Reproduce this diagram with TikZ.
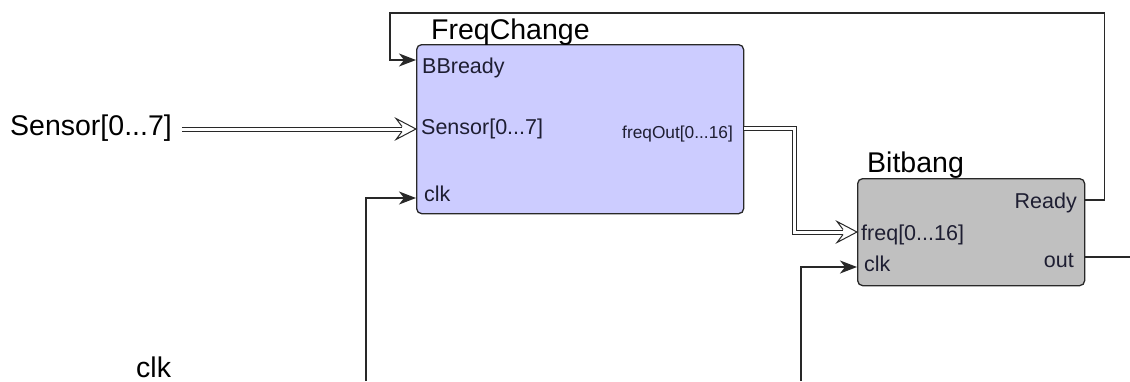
\documentclass[tikz,border=0pt]{standalone}
\usepackage{fontspec}
\setmainfont{Liberation Sans}
\usetikzlibrary{arrows.meta}
\definecolor{fcfill}{RGB}{204,204,255}
\definecolor{bbfill}{RGB}{192,192,192}
\definecolor{wire}{RGB}{40,40,40}
\definecolor{portlbl}{RGB}{30,30,50}
\begin{document}
\begin{tikzpicture}[x=1pt,y=-1pt,
  block/.style={draw=wire, line width=1.3pt, rounded corners=5pt, inner sep=0pt},
  title/.style={inner sep=0pt, font=\fontsize{28.5}{32}\selectfont, text=black},
  extlbl/.style={inner sep=0pt, font=\fontsize{28.5}{32}\selectfont, text=black},
  port/.style={inner sep=0pt, font=\fontsize{21.5}{25}\selectfont, text=portlbl},
  smallport/.style={inner sep=0pt, font=\fontsize{17.3}{20}\selectfont, text=portlbl},
  sig/.style={draw=wire, line width=1.3pt, -{Stealth[length=17pt,width=13pt,inset=5pt]}},
  plain/.style={draw=wire, line width=1.3pt},
  bus/.style={draw=wire, line width=1pt, double=white, double distance=3pt, shorten >=14pt},
  % hollow arrowhead closing a bus line
  openhead/.pic={
    \fill[white] (0,0) -- (-20,-10.5) -- (-14,-2.5) -- (-14,2.5) -- (-20,10.5) -- cycle;
    \draw[wire, line width=1pt, line join=miter]
      (-14,-2.5) -- (-20,-10.5) -- (0,0) -- (-20,10.5) -- (-14,2.5);
  }
]
\useasboundingbox (0,0) rectangle (1130,381);

% blocks
\node[block, fill=fcfill, minimum width=327pt, minimum height=169pt, anchor=north west] (fc) at (416,44) {};
\node[block, fill=bbfill, minimum width=227pt, minimum height=107pt, anchor=north west] (bb) at (857,178) {};

% block titles
\node[title, anchor=base west] (fctitle) at (431,39) {FreqChange};
\node[title, anchor=base west] (bbtitle) at (867,172) {Bitbang};

% external labels
\node[extlbl, anchor=base west] (senlbl) at (10,135) {Sensor[0...7]};
\node[extlbl, anchor=base west] (clklbl) at (136,377) {clk};

% port labels of FreqChange
\node[port, anchor=base west] (pBB) at (422,73) {BBready};
\node[port, anchor=base west] (pSen) at (421,134) {Sensor[0...7]};
\node[port, anchor=base west] (pClk) at (424,201) {clk};
\node[smallport, anchor=base east] (pOut) at (733,138) {freqOut[0...16]};

% port labels of Bitbang
\node[port, anchor=base east] (pReady) at (1077,208) {Ready};
\node[port, anchor=base west] (pFreq) at (861,240) {freq[0...16]};
\node[port, anchor=base west] (pbClk) at (864,271) {clk};
\node[port, anchor=base east] (pbOut) at (1074,267) {out};

% connection points
\coordinate (fcBB)   at (fc.west |- 0,60);
\coordinate (fcSen)  at (fc.west |- 0,129);
\coordinate (fcClk)  at (fc.west |- 0,198);
\coordinate (fcOut)  at (fc.east |- 0,128);
\coordinate (bbFreq) at (bb.west |- 0,232);
\coordinate (bbClk)  at (bb.west |- 0,267);
\coordinate (bbReady) at (bb.east |- 0,200);
\coordinate (bbOut)  at (bb.east |- 0,257);
\coordinate (clkA)   at (366,381);
\coordinate (clkB)   at (801,381);
\coordinate (outEnd) at (1130,257);

% bus wires with hollow heads
\draw[bus] ([xshift=10pt]senlbl.east |- fcSen) -- (fcSen);
\pic at (fcSen) {openhead};
\draw[bus] (fcOut) -- ++(50,0) coordinate (fo1) -- (fo1 |- bbFreq) -- (bbFreq);
\pic at (bbFreq) {openhead};

% single wires
\draw[sig] (clkA) |- (fcClk);
\draw[sig] (clkB) |- (bbClk);
\draw[plain] (bbOut) -- (outEnd);
\draw[sig] (bbReady) -- ++(19,0) coordinate (r1) -- (r1 |- 0,13) -- (390,13) coordinate (r2) -- (r2 |- fcBB) -- (fcBB);
\end{tikzpicture}
\end{document}
